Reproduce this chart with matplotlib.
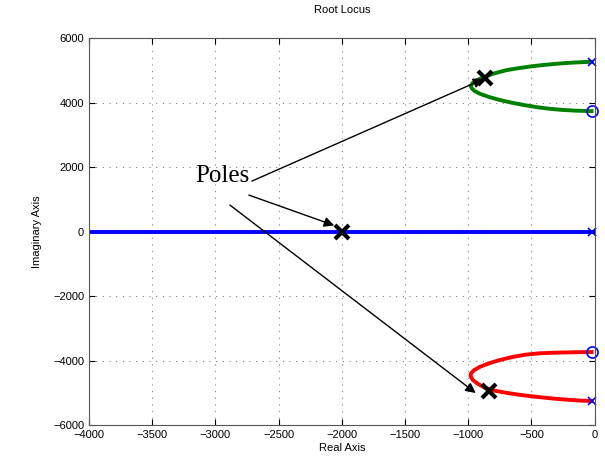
import matplotlib.pyplot as plt

# loci
verde_x = [-25, -100, -200, -300, -400, -500, -600, -700, -800, -870, -930, -965, -980,
           -972, -950, -905, -840, -760, -660, -560, -460, -360, -260, -150, -25]
verde_y = [5265, 5255, 5235, 5205, 5170, 5125, 5070, 5005, 4900, 4800, 4700, 4610, 4520,
           4440, 4360, 4270, 4180, 4090, 4000, 3925, 3860, 3810, 3775, 3750, 3736]
rojo_x = [-25, -150, -300, -435, -550, -650, -751, -840, -910, -955, -978, -982,
          -965, -925, -870, -800, -700, -600, -500, -400, -300, -200, -100, -25]
rojo_y = [-3736, -3742, -3755, -3775, -3820, -3890, -3984, -4090, -4200, -4300, -4400, -4480,
          -4600, -4720, -4840, -4930, -5000, -5060, -5110, -5150, -5190, -5220, -5245, -5256]
azul_x = [-4000, 0]
azul_y = [0, 0]

polos_x = [-25, -25, -25]
polos_y = [5265, 0, -5256]
ceros_x = [-25, -25]
ceros_y = [3736, -3736]

marcados_x = [-866, -2000, -838]
marcados_y = [4770, 0, -4946]

# anotacion: inicio de cada flecha y punta
flecha_ini = [(-2711, 1566), (-2735, 1132), (-2885, 822)]
flecha_fin = [(-880, 4730), (-2060, 190), (-941, -5008)]

fig = plt.figure(figsize=(6.05, 4.65), dpi=100)
ax = fig.add_axes([0.147, 0.086, 0.836, 0.832])

ax.plot(azul_x, azul_y, color='blue', lw=2.8)
ax.plot(verde_x, verde_y, color='green', lw=2.8, solid_joinstyle='round')
ax.plot(rojo_x, rojo_y, color='red', lw=2.8, solid_joinstyle='round')
ax.plot(polos_x, polos_y, 'x', color='blue', ms=6, mew=1.2, clip_on=False)
ax.plot(ceros_x, ceros_y, 'o', mfc='none', mec='blue', ms=8, mew=1.2, clip_on=False)

for ini, fin in zip(flecha_ini, flecha_fin):
    ax.annotate('', xy=fin, xytext=ini,
                arrowprops=dict(arrowstyle='-|>', color='black', lw=1,
                                mutation_scale=15, shrinkA=0, shrinkB=0))
ax.plot(marcados_x, marcados_y, 'x', color='black', ms=10, mew=3, zorder=5)
ax.text(-3162, 1535, 'Poles', family='Liberation Serif', fontsize=18)

ax.set_xlim(-4000, 0)
ax.set_ylim(-6000, 6000)
ax.set_xticks(range(-4000, 1, 500))
ax.set_yticks(range(-6000, 6001, 2000))
ax.tick_params(direction='in', labelsize=8, length=4, top=True, right=True)
for lbl in ax.get_xticklabels() + ax.get_yticklabels():
    lbl.set_family('Liberation Sans')
ax.grid(True, linestyle=(0, (1, 5)), color='gray', lw=0.8)
for s in ax.spines.values():
    s.set_color('#555555')

ax.set_title('Root Locus', family='Liberation Sans', fontsize=8, pad=18)
ax.set_xlabel('Real Axis', family='Liberation Sans', fontsize=8, labelpad=2)
ax.set_ylabel('Imaginary Axis', family='Liberation Sans', fontsize=8, labelpad=8)

plt.savefig('out.png')
